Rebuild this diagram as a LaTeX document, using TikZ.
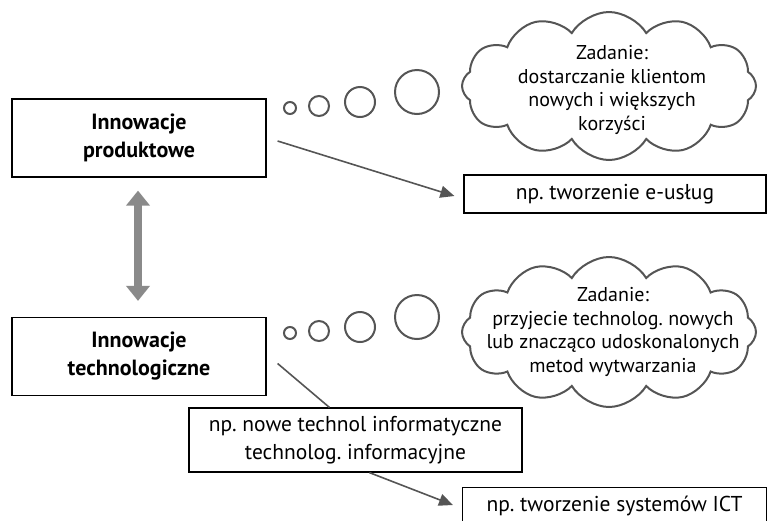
\documentclass[tikz,border=0pt]{standalone}
\usepackage{fontspec}
\setmainfont{PT Sans}
\frenchspacing
\usetikzlibrary{calc,shapes.symbols,arrows.meta}

\definecolor{linegray}{HTML}{555555}
\definecolor{dblgray}{HTML}{8A8A8A}

\tikzset{
  mainbox/.style={draw, rectangle, line width=1.2pt, minimum width=254pt, minimum height=78pt,
    align=center, font=\fontsize{22}{28}\selectfont\bfseries},
  examplebox/.style={draw, rectangle, line width=1.2pt, align=center,
    font=\fontsize{21.5}{28}\selectfont},
  thought/.style={draw=linegray, cloud, cloud puffs=12, cloud puff arc=118, cloud ignores aspect,
    line width=2pt, inner sep=0pt},
  thoughttext/.style={align=center, font=\fontsize{20}{23.5}\selectfont},
  bubble/.style={draw=linegray, line width=2pt},
  conn/.style={draw=linegray, line width=1.6pt},
  arr/.style={conn, -{Triangle[width=12pt,length=14pt]}},
  dbl/.style={draw=dblgray, line width=8pt,
    {Triangle[width=23pt,length=15pt]}-{Triangle[width=23pt,length=15pt]}}
}

\begin{document}
\begin{tikzpicture}[x=1pt, y=-1pt]
\useasboundingbox (0,0) rectangle (768,520);
\clip (0,0) rectangle (768,520);

% Main boxes
\node[mainbox] (prod) at (139,138) {Innowacje\\produktowe};
\node[mainbox] (tech) at (139,356.5) {Innowacje\\technologiczne};

% Example boxes
\node[examplebox, minimum width=302pt, minimum height=38pt] (eusl) at (615,194) {np. tworzenie e-usług};
\node[examplebox, minimum width=333pt, minimum height=64pt] (itbox) at (355.5,440) {np. nowe technol informatyczne\\technolog. informacyjne};
\node[examplebox, minimum width=304pt, minimum height=36pt, anchor=north west] (ict) at (462,487) {np. tworzenie systemów ICT};

% Thought clouds
\node[thought, minimum width=294pt, minimum height=148pt] (task1) at (609,86) {};
\node[thoughttext] (task1txt) at ($(task1)+(3,4)$) {Zadanie:\\dostarczanie klientom\\nowych i większych\\korzyści};
\node[thought, minimum width=294pt, minimum height=150pt] (task2) at (609,332) {};
\node[thoughttext] (task2txt) at ($(task2)+(4,0)$) {Zadanie:\\przyjecie technolog. nowych\\lub znacząco udoskonalonych\\metod wytwarzania};

% Thought bubbles
\foreach \dy in {0,225}
  \foreach \cx/\cy/\r in {290/108/6, 319/106/10, 360/102/15, 417/92/22}
    \draw[bubble] (\cx,\cy+\dy) circle[radius=\r];

% Double arrow between the two kinds
\draw[dbl] ($(prod.south)+(-1,13)$) -- ($(tech.north)+(-1,-16)$);

% Connectors
\draw[arr] ($(prod.east)+(11,3)$) -- ($(eusl.west)+(-9,2)$);
\draw[conn] ($(tech.east)+(11,7)$) -- ($(itbox.north west)+(141,0)$);
\draw[arr] ($(itbox.south west)+(181,0)$) -- ($(ict.north west)+(-9,18)$);
\end{tikzpicture}
\end{document}
